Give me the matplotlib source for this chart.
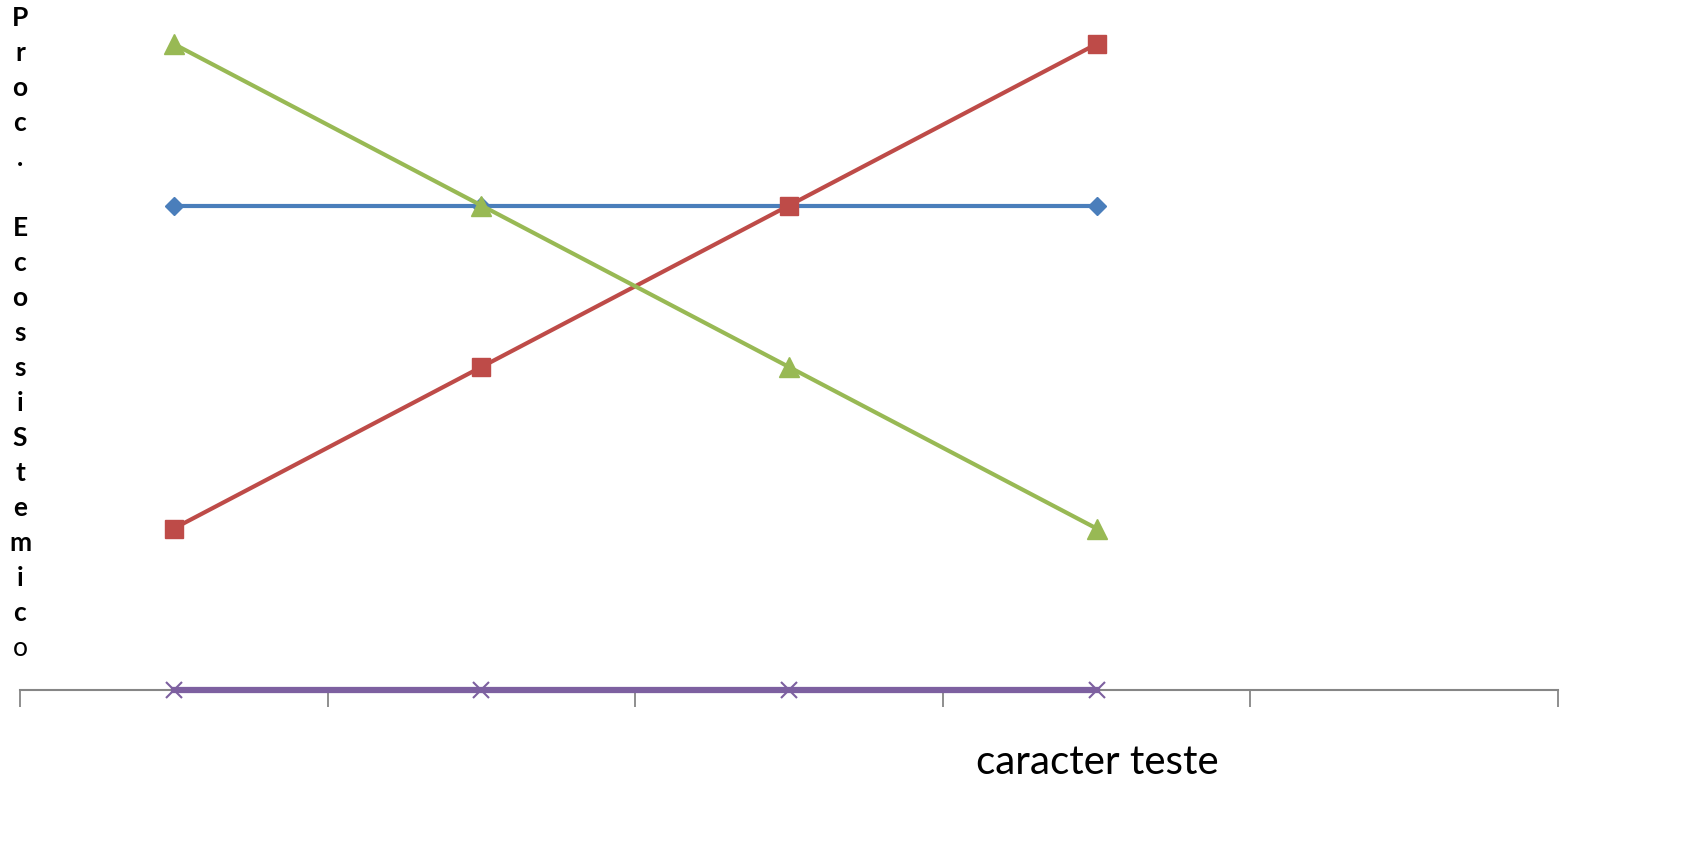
import matplotlib
matplotlib.use("Agg")
import matplotlib.pyplot as plt
import numpy as np

plt.rcParams["font.family"] = ["Lato", "DejaVu Sans"]

BLUE = "#4a7ebb"
RED = "#be4b48"
GREEN = "#98b954"
PURPLE = "#7d60a0"
GREY = "#868686"

categories = [1, 2, 3, 4, 5]
serie_azul = [3, 3, 3, 3]
serie_vermelha = [1, 2, 3, 4]
serie_verde = [4, 3, 2, 1]
serie_roxa = [0, 0, 0, 0]
ylabel = "Proc. EcossiStemico"
xlabel = "caracter teste"

fig = plt.figure(figsize=(17.02, 8.46), dpi=100)
ax = fig.add_axes([20 / 1702, 1 - 690 / 846, 1538 / 1702, 646 / 846])

x = np.arange(len(serie_azul))
ax.plot(x, serie_azul, color=BLUE, lw=3, marker="D", ms=9, clip_on=False, zorder=3)
ax.plot(x, serie_vermelha, color=RED, lw=3, marker="s", ms=13, clip_on=False, zorder=4)
ax.plot(x, serie_verde, color=GREEN, lw=3, marker="^", ms=14, clip_on=False, zorder=5)
ax.plot(x, serie_roxa, color=PURPLE, lw=4.5, marker="x", ms=11, mew=1.5,
        clip_on=False, zorder=6)

ax.set_xlim(-0.5, len(categories) - 0.5)
ax.set_ylim(0, 4)
ax.set_xticks(np.arange(len(categories) + 1) - 0.5)
ax.set_xticklabels([])
ax.tick_params(axis="x", length=12, width=1.3, color=GREY, direction="out")
ax.set_yticks([])
for s in ["top", "right", "left"]:
    ax.spines[s].set_visible(False)
ax.spines["bottom"].set_color(GREY)
ax.spines["bottom"].set_linewidth(1.5)

# rótulo do eixo y: uma letra por linha
ys = 18
step = 35
linha = 0
for i, ch in enumerate(ylabel):
    if ch == " ":
        linha += 1
        continue
    peso = "normal" if i == len(ylabel) - 1 else "bold"
    fig.text(20 / 1702, 1 - (ys + linha * step) / 846, ch, ha="center", va="center",
             fontsize=19, fontweight=peso, color="black")
    linha += 1

fig.text(1097 / 1702, 1 - 762 / 846, xlabel, ha="center", va="center", fontsize=29)

fig.savefig("out.png", dpi=100, facecolor="white")
